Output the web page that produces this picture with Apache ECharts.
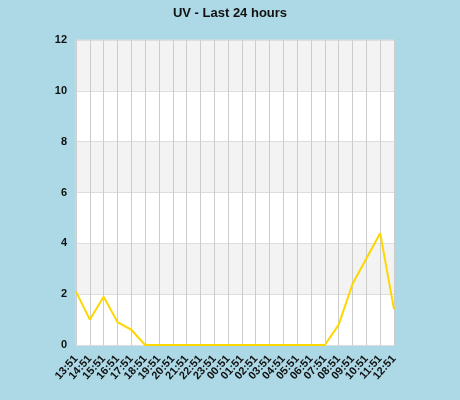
<!DOCTYPE html>
<html><head><meta charset="utf-8">
<script src="https://cdn.jsdelivr.net/npm/echarts@6/dist/echarts.min.js"></script>
<style>html,body{margin:0;padding:0;background:#add8e6;}#c{width:460px;height:400px;}</style>
</head><body><div id="c"></div>
<script>
var categories = ["13:51","14:51","15:51","16:51","17:51","18:51","19:51","20:51","21:51","22:51","23:51","00:51","01:51","02:51","03:51","04:51","05:51","06:51","07:51","08:51","09:51","10:51","11:51","12:51"];
var uvValues = [2.1,1.0,1.9,0.9,0.6,0,0,0,0,0,0,0,0,0,0,0,0,0,0,0.8,2.4,3.4,4.4,1.4];
var yTicks = {min:0,max:12,interval:2};
var chart = echarts.init(document.getElementById('c'));
chart.setOption({
  backgroundColor:'#add8e6',
  animation:false,
  title:{text:'UV - Last 24 hours',left:'center',top:2,textStyle:{fontFamily:'Liberation Sans',fontSize:13,fontWeight:'bold',color:'#111'}},
  grid:{left:76,right:66,top:40,bottom:55,show:true,backgroundColor:'#fff',borderColor:'#ddd',borderWidth:1},
  xAxis:{type:'category',data:categories,boundaryGap:false,
    axisLine:{show:false},axisTick:{show:false},
    axisLabel:{rotate:48,interval:0,fontFamily:'Liberation Sans',fontSize:11,fontWeight:'bold',color:'#111',margin:12},
    splitLine:{show:true,lineStyle:{color:'#ccc',width:1}}},
  yAxis:{type:'value',min:yTicks.min,max:yTicks.max,interval:yTicks.interval,
    axisLine:{show:false},axisTick:{show:false},
    axisLabel:{fontFamily:'Liberation Sans',fontSize:11,fontWeight:'bold',color:'#111',margin:9},
    splitLine:{show:true,lineStyle:{color:'#ddd',width:1}},
    splitArea:{show:true,areaStyle:{color:['#ffffff','#f3f3f3']}}},
  series:[{type:'line',data:uvValues,symbol:'none',lineStyle:{color:'#ffd700',width:2},itemStyle:{color:'#ffd700'}}]
});
</script></body></html>
